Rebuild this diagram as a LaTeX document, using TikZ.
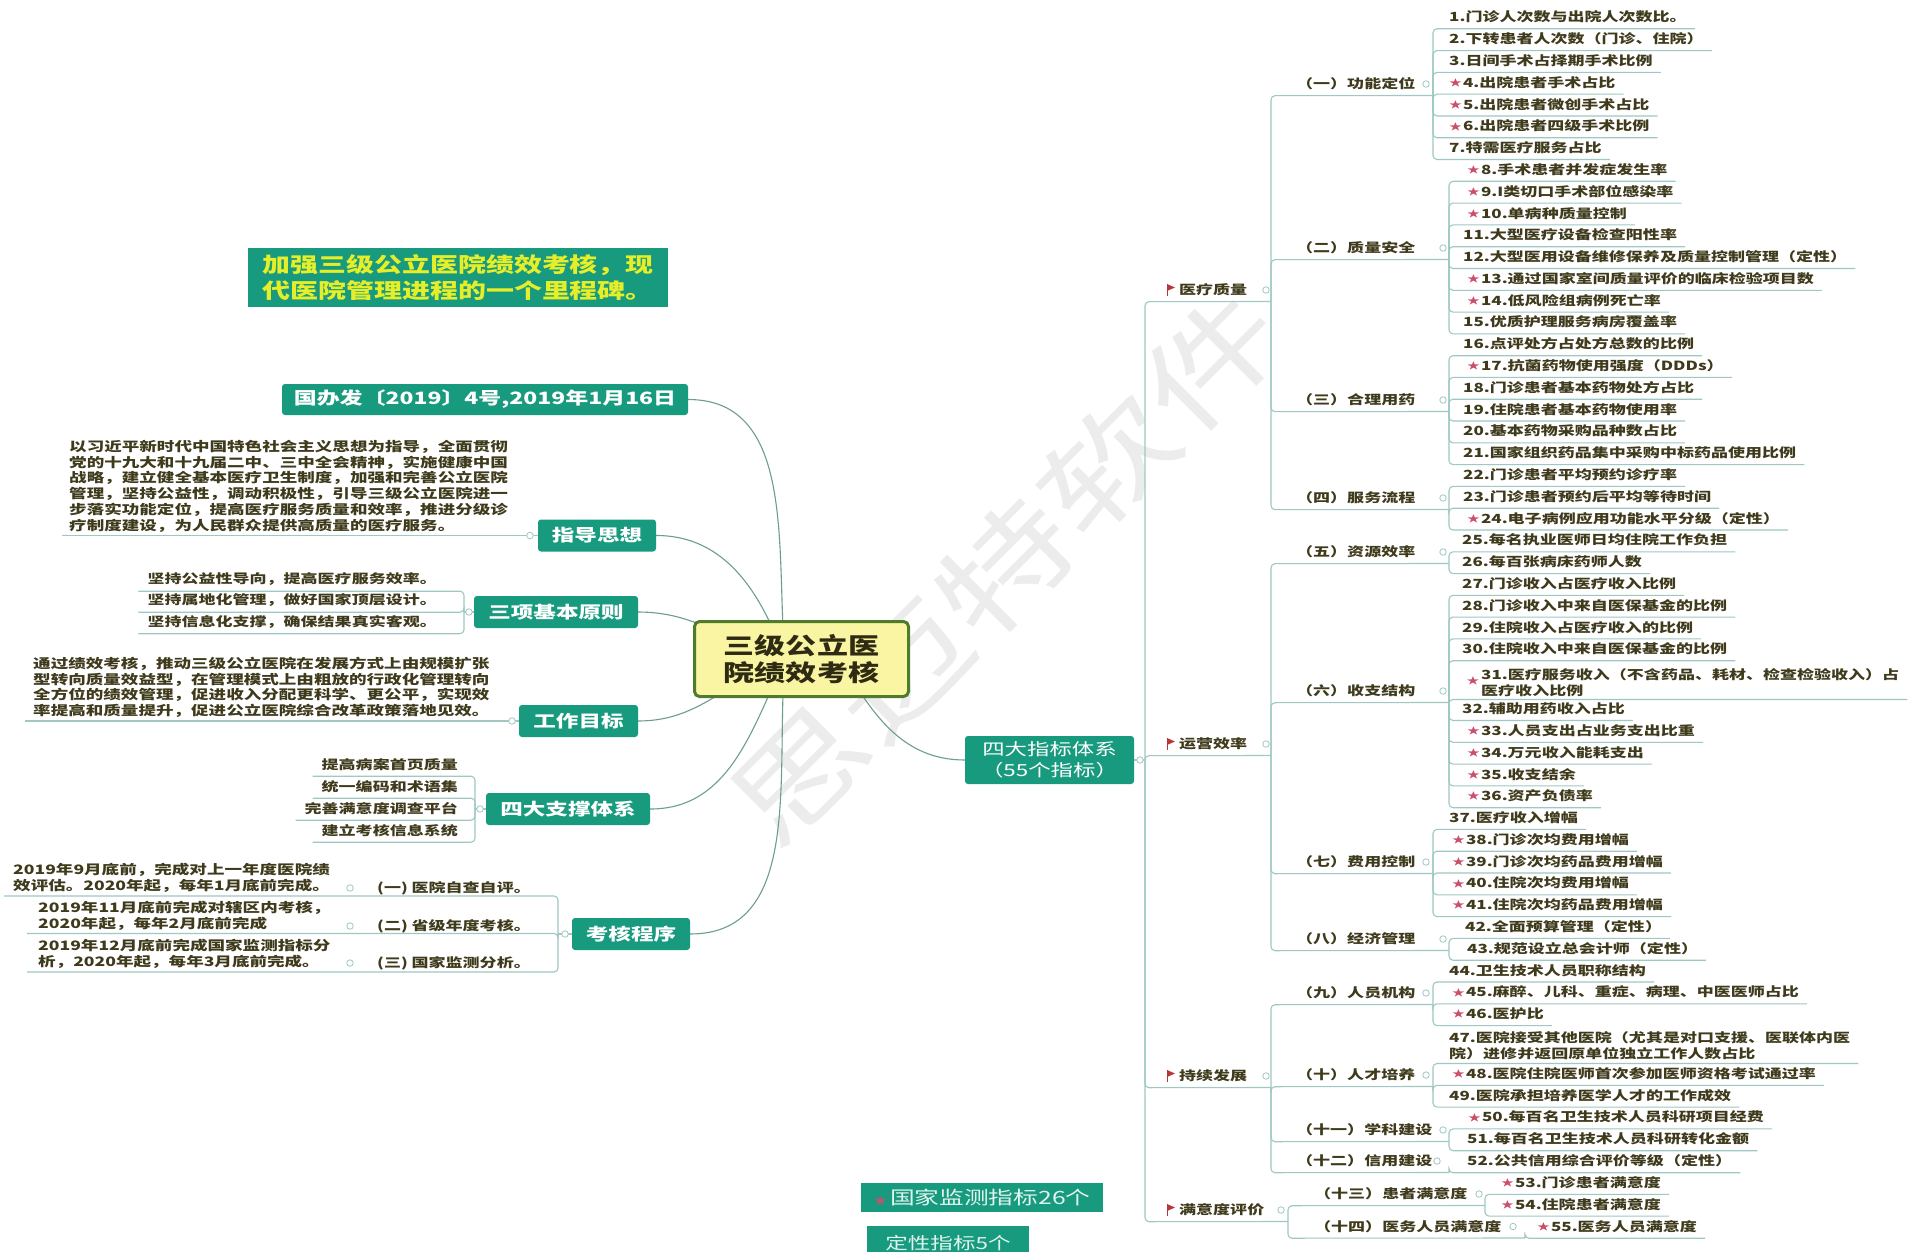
\documentclass[tikz,border=0pt]{standalone}
\usepackage{fontspec}
\setmainfont{Noto Sans CJK SC}[FakeStretch=1.35]
\usetikzlibrary{backgrounds}
\definecolor{itemc}{HTML}{3E3A1B}
\definecolor{linec}{HTML}{9FC8C2}
\definecolor{connc}{HTML}{6E9C93}
\definecolor{boxg}{HTML}{179A7E}
\definecolor{starc}{HTML}{C9506B}
\definecolor{flagc}{HTML}{B8383A}
\definecolor{cfill}{HTML}{F9F5A2}
\definecolor{cborder}{HTML}{4E7C2C}
\definecolor{cenc}{HTML}{2E2B12}
\definecolor{titlec}{HTML}{E6EE2A}
\definecolor{legc}{HTML}{E2F4EF}
\definecolor{wmark}{HTML}{ECECEC}
\newcommand\fitem{\fontsize{12.6}{16}\selectfont\bfseries}
\newcommand\fpara{\fontsize{13}{15.8}\selectfont\bfseries}
\newcommand\fgb{\fontsize{16.7}{20}\selectfont\bfseries}
\newcommand\fgov{\fontsize{17}{20}\selectfont\bfseries}
\newcommand\fcen{\fontsize{23}{27}\selectfont\bfseries}
\newcommand\ftitle{\fontsize{20.7}{26}\selectfont\bfseries}
\newcommand\fzb{\fontsize{16.6}{21}\selectfont}
\newcommand\flega{\fontsize{18.3}{22}\selectfont}
\newcommand\flegb{\fontsize{16.7}{20}\selectfont}
\newcommand\fwm{\fontsize{108}{108}\selectfont}
\newcommand\mystar{\raisebox{0.8pt}{\color{starc}\fontsize{9.5}{9.5}\selectfont ★}\hspace{1pt}}
\newcommand\Itm[5]{\node[itm] (#1) at (#3,#4) {#5};\draw[ul] (#2) -- (#2 |- #1.south) -- ([xshift=8pt]#1.south east);}
\newcommand\ItmB[5]{\node[itmb] (#1) at (#3,#4) {#5};\draw[ul] (#2) -- (#2 |- #1.south) -- ([xshift=8pt]#1.south east);}
\newcommand\LItm[5]{\node[ritm] (#1) at (#3,#4) {#5};\draw[ul] (#2) -- (#2 |- #1.south) -- ([xshift=-9pt]#1.south west);}
\newcommand\Flag[2]{\fill[flagc] (#1,#2-6) -- (#1+8,#2-2.5) -- (#1,#2+1) -- cycle;\draw[flagc,line width=0.7pt] (#1,#2-6) -- (#1,#2+6);}
\begin{document}
\begin{tikzpicture}[x=1pt,y=-1pt,
  itm/.style={anchor=west, inner sep=0pt, minimum height=23pt, text=itemc, font=\fitem},
  itmb/.style={anchor=south west, inner xsep=0pt, inner ysep=3pt, align=left, text=itemc, font=\fitem},
  ritm/.style={anchor=east, inner sep=0pt, minimum height=23pt, text=itemc, font=\fitem},
  parab/.style={anchor=south west, inner ysep=3pt, align=left, text=itemc, font=\fpara},
  ul/.style={draw=linec, line width=1.1pt, rounded corners=4pt},
  conn/.style={draw=connc, line width=1.1pt},
  circ/.style={circle, draw=linec, fill=white, line width=0.8pt, inner sep=0pt, minimum size=6.5pt},
  gbox/.style={rectangle, rounded corners=3pt, fill=boxg, text=white, font=\fgb, minimum height=32pt, inner xsep=6pt},
]
\useasboundingbox (0,0) rectangle (1916,1252);

% ---------- central and left nodes ----------
\node[draw=cborder, line width=3pt, fill=cfill, rounded corners=5pt, minimum width=214pt, minimum height=75pt, align=center, text=cenc, font=\fcen] (cn) at (801.5,659) {三级公立医\\院绩效考核};
\coordinate (cc) at (785,659);
\coordinate (cc2) at (840,659);

\node[anchor=west, fill=boxg, text=titlec, font=\ftitle, minimum width=420pt, minimum height=59pt, inner xsep=13pt, align=left] (tt) at (248,277.5) {加强三级公立医院绩效考核，现\\代医院管理进程的一个里程碑。};

\node[gbox, font=\fgov, minimum width=406pt, minimum height=31pt] (gb) at (485,399.5) {国办发〔2019〕4号,2019年1月16日};
\node[gbox, minimum width=118pt] (zd) at (597,535.5) {指导思想};
\node[gbox, minimum width=164pt] (sx) at (556,612) {三项基本原则};
\node[gbox, minimum width=119pt] (gm) at (578.5,721) {工作目标};
\node[gbox, minimum width=164pt] (zc) at (568,809) {四大支撑体系};
\node[gbox, minimum width=118pt] (kh) at (631,934) {考核程序};
\node[gbox, font=\fzb, minimum width=169pt, minimum height=48pt, align=center] (zb) at (1049.5,760) {四大指标体系\\（55个指标）};

% 指导思想
\node[parab, inner xsep=7pt] (p1) at (62,535.5) {以习近平新时代中国特色社会主义思想为指导，全面贯彻\\党的十九大和十九届二中、三中全会精神，实施健康中国\\战略，建立健全基本医疗卫生制度，加强和完善公立医院\\管理，坚持公益性，调动积极性，引导三级公立医院进一\\步落实功能定位，提高医疗服务质量和效率，推进分级诊\\疗制度建设，为人民群众提供高质量的医疗服务。};
\draw[ul] (zd.west) -- (p1.south west);
\node[circ] (o-p1) at (530,535.5) {};

% 三项基本原则
\coordinate (sb) at (464,612);
\draw[ul] (sx.west) -- (sb);
\LItm{s1}{sb}{437}{579.5}{坚持公益性导向，提高医疗服务效率。}
\LItm{s2}{sb}{437}{600.5}{坚持属地化管理，做好国家顶层设计。}
\LItm{s3}{sb}{437}{622}{坚持信息化支撑，确保结果真实客观。}
\node[circ] (o-sx) at (469,612) {};

% 工作目标
\node[parab, inner xsep=8pt] (p3) at (25,721) {通过绩效考核，推动三级公立医院在发展方式上由规模扩张\\型转向质量效益型，在管理模式上由粗放的行政化管理转向\\全方位的绩效管理，促进收入分配更科学、更公平，实现效\\率提高和质量提升，促进公立医院综合改革政策落地见效。};
\draw[ul] (gm.west) -- (p3.south west);
\node[circ] (o-gm) at (512,721) {};

% 四大支撑体系
\coordinate (zj) at (475,809);
\draw[ul] (zc.west) -- (zj);
\LItm{z1}{zj}{458}{764.5}{提高病案首页质量}
\LItm{z2}{zj}{458}{786.5}{统一编码和术语集}
\LItm{z3}{zj}{458}{808.5}{完善满意度调查平台}
\LItm{z4}{zj}{458}{830.5}{建立考核信息系统}
\node[circ] (o-zc) at (480,809) {};

% 考核程序
\coordinate (kb) at (558,934);
\draw[ul] (kh.west) -- (kb);
\node[parab, inner xsep=9pt] (k1p) at (4,896) {2019年9月底前，完成对上一年度医院绩\\效评估。2020年起，每年1月底前完成。};
\node[parab, inner xsep=11pt] (k2p) at (27,933.5) {2019年11月底前完成对辖区内考核，\\2020年起，每年2月底前完成};
\node[parab, inner xsep=11pt] (k3p) at (27,972) {2019年12月底前完成国家监测指标分\\析，2020年起，每年3月底前完成。};
\draw[ul] (kb) -- (kb |- k1p.south) -- (k1p.south west);
\draw[ul] (kb) -- (kb |- k2p.south) -- (k2p.south west);
\draw[ul] (kb) -- (kb |- k3p.south) -- (k3p.south west);
\node[anchor=west, inner sep=0pt, text=itemc, font=\fitem] (k1) at (377,888) {(一) 医院自查自评。};
\node[anchor=west, inner sep=0pt, text=itemc, font=\fitem] (k2) at (377,926) {(二) 省级年度考核。};
\node[anchor=west, inner sep=0pt, text=itemc, font=\fitem] (k3) at (377,963) {(三) 国家监测分析。};
\node[circ] (o-k1) at (350,888) {};
\node[circ] (o-k2) at (350,926) {};
\node[circ] (o-k3) at (350,963) {};
\node[circ] (o-kh) at (565,934) {};

% ---------- right side ----------
\coordinate (T) at (1145,760);
\draw[ul] (zb.east) -- (T);
\node[itm] (c1) at (1179,290) {医疗质量};
\node[itm] (c2) at (1179,744) {运营效率};
\node[itm] (c3) at (1179,1076) {持续发展};
\node[itm] (c4) at (1179,1210) {满意度评价};
\Flag{1167}{290}\Flag{1167}{744}\Flag{1167}{1076}\Flag{1167}{1210}
\coordinate (t1) at (1271,301.5);
\coordinate (t2) at (1271,755.5);
\coordinate (t3) at (1271,1087.5);
\coordinate (t4) at (1288,1221.5);
\draw[ul] (T) -- (T |- c1.south) -- (t1);
\draw[ul] (T) -- (T |- c2.south) -- (t2);
\draw[ul] (T) -- (T |- c3.south) -- (t3);
\draw[ul] (T) -- (T |- c4.south) -- (t4);

% group labels
\node[itm] (g1) at (1296,84) {（一）功能定位};
\node[itm] (g2) at (1296,248) {（二）质量安全};
\node[itm] (g3) at (1296,400) {（三）合理用药};
\node[itm] (g4) at (1296,498) {（四）服务流程};
\node[itm] (g5) at (1296,552) {（五）资源效率};
\node[itm] (g6) at (1296,691) {（六）收支结构};
\node[itm] (g7) at (1296,862) {（七）费用控制};
\node[itm] (g8) at (1296,939) {（八）经济管理};
\node[itm] (g9) at (1296,993) {（九）人员机构};
\node[itm] (g10) at (1296,1075) {（十）人才培养};
\node[itm] (g11) at (1296,1130) {（十一）学科建设};
\node[itm] (g12) at (1296,1161) {（十二）信用建设};
\node[itm] (g13) at (1314,1194) {（十三）患者满意度};
\node[itm] (g14) at (1314,1226.5) {（十四）医务人员满意度};

\coordinate (b1) at (1433,95.5);
\coordinate (b2) at (1449,259.5);
\coordinate (b3) at (1449,411.5);
\coordinate (b4) at (1449,509.5);
\coordinate (b5) at (1449,563.5);
\coordinate (b6) at (1449,702.5);
\coordinate (b7) at (1433,873.5);
\coordinate (b8) at (1449,950.5);
\coordinate (b9) at (1433,1004.5);
\coordinate (b10) at (1433,1086.5);
\coordinate (b11) at (1449,1141.5);
\coordinate (b12) at (1449,1172.5);
\coordinate (b13) at (1485,1205.5);
\coordinate (b14) at (1525,1238);

\draw[ul] (t1) -- (t1 |- g1.south) -- (b1);
\draw[ul] (t1) -- (t1 |- g2.south) -- (b2);
\draw[ul] (t1) -- (t1 |- g3.south) -- (b3);
\draw[ul] (t1) -- (t1 |- g4.south) -- (b4);
\draw[ul] (t2) -- (t2 |- g5.south) -- (b5);
\draw[ul] (t2) -- (t2 |- g6.south) -- (b6);
\draw[ul] (t2) -- (t2 |- g7.south) -- (b7);
\draw[ul] (t2) -- (t2 |- g8.south) -- (b8);
\draw[ul] (t3) -- (t3 |- g9.south) -- (b9);
\draw[ul] (t3) -- (t3 |- g10.south) -- (b10);
\draw[ul] (t3) -- (t3 |- g11.south) -- (b11);
\draw[ul] (t3) -- (t3 |- g12.south) -- (b12);
\draw[ul] (t4) -- (t4 |- g13.south) -- (b13);
\draw[ul] (t4) -- (t4 |- g14.south) -- (b14);

% items
\Itm{i1}{b1}{1449}{17.1}{1.门诊人次数与出院人次数比。}
\Itm{i2}{b1}{1449}{38.9}{2.下转患者人次数（门诊、住院）}
\Itm{i3}{b1}{1449}{60.7}{3.日间手术占择期手术比例}
\Itm{i4}{b1}{1449}{82.5}{\mystar 4.出院患者手术占比}
\Itm{i5}{b1}{1449}{104.3}{\mystar 5.出院患者微创手术占比}
\Itm{i6}{b1}{1449}{126.1}{\mystar 6.出院患者四级手术比例}
\Itm{i7}{b1}{1449}{147.8}{7.特需医疗服务占比}

\Itm{i8}{b2}{1467}{169.6}{\mystar 8.手术患者并发症发生率}
\Itm{i9}{b2}{1467}{191.4}{\mystar 9.I类切口手术部位感染率}
\Itm{i10}{b2}{1467}{213.2}{\mystar 10.单病种质量控制}
\Itm{i11}{b2}{1463}{235.0}{11.大型医疗设备检查阳性率}
\Itm{i12}{b2}{1463}{256.8}{12.大型医用设备维修保养及质量控制管理（定性）}
\Itm{i13}{b2}{1467}{278.6}{\mystar 13.通过国家室间质量评价的临床检验项目数}
\Itm{i14}{b2}{1467}{300.4}{\mystar 14.低风险组病例死亡率}
\Itm{i15}{b2}{1463}{322.2}{15.优质护理服务病房覆盖率}

\Itm{i16}{b3}{1463}{344.0}{16.点评处方占处方总数的比例}
\Itm{i17}{b3}{1467}{365.7}{\mystar 17.抗菌药物使用强度（DDDs）}
\Itm{i18}{b3}{1463}{387.5}{18.门诊患者基本药物处方占比}
\Itm{i19}{b3}{1463}{409.3}{19.住院患者基本药物使用率}
\Itm{i20}{b3}{1463}{431.1}{20.基本药物采购品种数占比}
\Itm{i21}{b3}{1463}{452.9}{21.国家组织药品集中采购中标药品使用比例}

\Itm{i22}{b4}{1463}{474.7}{22.门诊患者平均预约诊疗率}
\Itm{i23}{b4}{1463}{496.5}{23.门诊患者预约后平均等待时间}
\Itm{i24}{b4}{1467}{518.3}{\mystar 24.电子病例应用功能水平分级（定性）}

\Itm{i25}{b5}{1462}{540.1}{25.每名执业医师日均住院工作负担}
\Itm{i26}{b5}{1462}{561.9}{26.每百张病床药师人数}

\Itm{i27}{b6}{1462}{583.6}{27.门诊收入占医疗收入比例}
\Itm{i28}{b6}{1462}{605.4}{28.门诊收入中来自医保基金的比例}
\Itm{i29}{b6}{1462}{627.2}{29.住院收入占医疗收入的比例}
\Itm{i30}{b6}{1462}{649.0}{30.住院收入中来自医保基金的比例}
\ItmB{i31}{b6}{1481}{699.5}{31.医疗服务收入（不含药品、耗材、检查检验收入）占\\医疗收入比例}
\node[text=starc, font=\fontsize{9.5}{9.5}\selectfont, inner sep=0pt] (s31) at (1473,681) {★};
\Itm{i32}{b6}{1462}{708.8}{32.辅助用药收入占比}
\Itm{i33}{b6}{1467}{730.6}{\mystar 33.人员支出占业务支出比重}
\Itm{i34}{b6}{1467}{752.4}{\mystar 34.万元收入能耗支出}
\Itm{i35}{b6}{1467}{774.2}{\mystar 35.收支结余}
\Itm{i36}{b6}{1467}{796.0}{\mystar 36.资产负债率}

\Itm{i37}{b7}{1449}{817.7}{37.医疗收入增幅}
\Itm{i38}{b7}{1452}{839.5}{\mystar 38.门诊次均费用增幅}
\Itm{i39}{b7}{1452}{861.3}{\mystar 39.门诊次均药品费用增幅}
\Itm{i40}{b7}{1452}{883.1}{\mystar 40.住院次均费用增幅}
\Itm{i41}{b7}{1452}{904.9}{\mystar 41.住院次均药品费用增幅}

\Itm{i42}{b8}{1465}{926.7}{42.全面预算管理（定性）}
\Itm{i43}{b8}{1467}{948.5}{43.规范设立总会计师（定性）}

\Itm{i44}{b9}{1449}{970.3}{44.卫生技术人员职称结构}
\Itm{i45}{b9}{1452}{992.1}{\mystar 45.麻醉、儿科、重症、病理、中医医师占比}
\Itm{i46}{b9}{1452}{1013.9}{\mystar 46.医护比}

\ItmB{i47}{b10}{1449}{1063.5}{47.医院接受其他医院（尤其是对口支援、医联体内医\\院）进修并返回原单位独立工作人数占比}
\Itm{i48}{b10}{1452}{1073.6}{\mystar 48.医院住院医师首次参加医师资格考试通过率}
\Itm{i49}{b10}{1449}{1095.4}{49.医院承担培养医学人才的工作成效}

\Itm{i50}{b11}{1468}{1117.2}{\mystar 50.每百名卫生技术人员科研项目经费}
\Itm{i51}{b11}{1467}{1139.0}{51.每百名卫生技术人员科研转化金额}

\Itm{i52}{b12}{1467}{1161}{52.公共信用综合评价等级（定性）}

\Itm{i53}{b13}{1501}{1182.6}{\mystar 53.门诊患者满意度}
\Itm{i54}{b13}{1501}{1204.4}{\mystar 54.住院患者满意度}

\Itm{i55}{b14}{1537}{1226.5}{\mystar 55.医务人员满意度}

% collapse circles
\node[circ] (o-zb) at (1140,760) {};
\node[circ] (o-c1) at (1266,290) {};
\node[circ] (o-c2) at (1266,744) {};
\node[circ] (o-c3) at (1266,1076) {};
\node[circ] (o-c4) at (1281,1210) {};
\node[circ] (o-g1) at (1426,84) {};
\node[circ] (o-g2) at (1443,248) {};
\node[circ] (o-g3) at (1443,400) {};
\node[circ] (o-g4) at (1443,498) {};
\node[circ] (o-g5) at (1443,552) {};
\node[circ] (o-g6) at (1443,691) {};
\node[circ] (o-g7) at (1426,862) {};
\node[circ] (o-g8) at (1443,939) {};
\node[circ] (o-g9) at (1426,993) {};
\node[circ] (o-g10) at (1426,1075) {};
\node[circ] (o-g11) at (1443,1130) {};
\node[circ] (o-g12) at (1437,1161) {};
\node[circ] (o-g13) at (1479,1194) {};
\node[circ] (o-g14) at (1513,1226.5) {};

% legend
\node[fill=boxg, text=legc, font=\flega, minimum width=242pt, minimum height=29pt, inner sep=0pt] (lg1) at (982,1197.5) {{\color{starc}\fontsize{10}{10}\selectfont ★}\hspace{3pt}国家监测指标26个};
\node[fill=boxg, text=legc, font=\flegb, minimum width=162pt, minimum height=34pt, inner sep=0pt] (lg2) at (948,1243) {定性指标5个};

% ---------- background layer ----------
\begin{pgfonlayer}{background}
\fill[white] (0,0) rectangle (1916,1252);
\node[rotate=45, text=wmark, font=\fwm, inner sep=0pt] (wm) at (1005,568) {思迈特软件};
\draw[conn] (gb.east) to[out=0,in=95] (cc);
\draw[conn] (zd.east) to[out=0,in=110] (cc);
\draw[conn] (sx.east) to[out=0,in=165] (cc);
\draw[conn] (gm.east) to[out=0,in=200] (cc);
\draw[conn] (zc.east) to[out=0,in=245] (cc);
\draw[conn] (kh.east) to[out=0,in=265] (cc);
\draw[conn] (zb.west) to[out=180,in=-60] (cc2);
\end{pgfonlayer}
\end{tikzpicture}
\end{document}
